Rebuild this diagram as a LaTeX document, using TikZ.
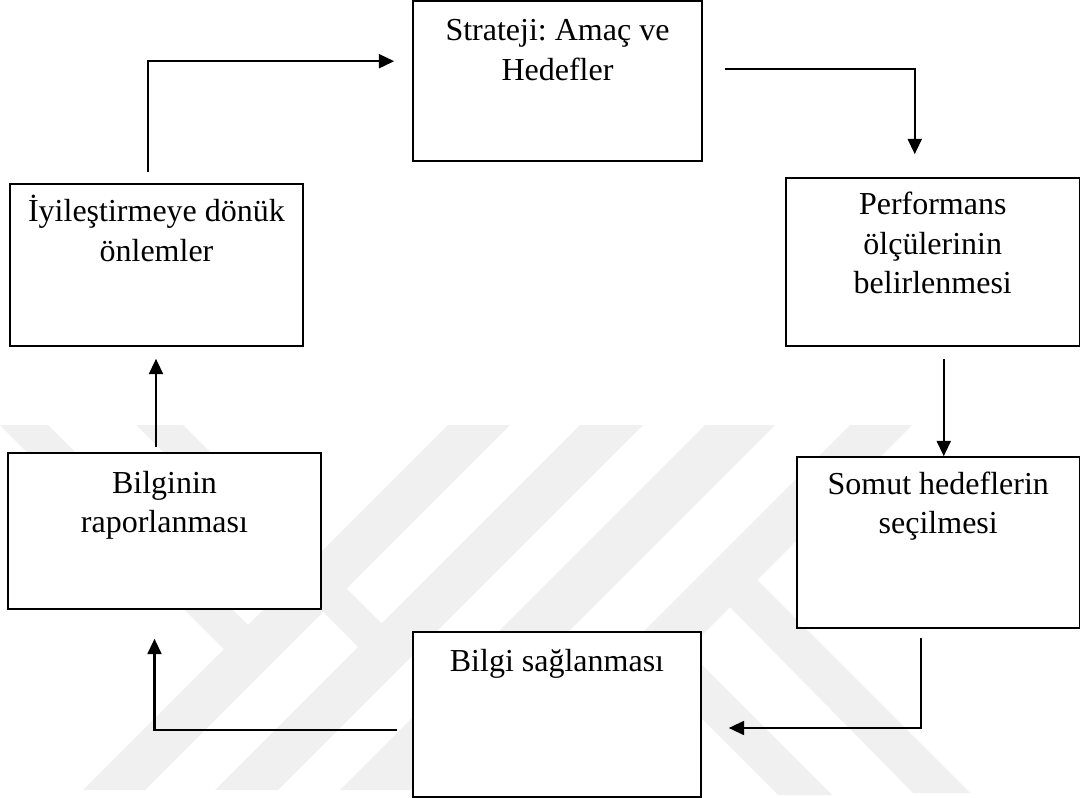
\documentclass[tikz,border=0pt]{standalone}
\usepackage{fontspec}
\setmainfont{Liberation Serif}
\usetikzlibrary{arrows.meta,calc,fit}
\frenchspacing

\begin{document}
\begin{tikzpicture}[x=0.75pt,y=-0.75pt,
  box/.style={draw=black, line width=1.2pt, fill=white, inner sep=0pt},
  lbl/.style={anchor=north, align=center, inner sep=0pt,
    font=\fontsize{24}{29.5}\selectfont},
  arr/.style={line width=1.6pt, -{Triangle[length=11.5pt,width=10.5pt]}},
  wm/.style={fill=black!6, draw=none}]

% canvas
\fill[white] (0,0) rectangle (1081,798);
\useasboundingbox (0,0) rectangle (1081,798);

% faint background bands
\fill[wm] (448,425) -- (510,425) -- (145,790) -- (83,790) -- cycle;
\fill[wm] (580,425) -- (643,425) -- (278,790) -- (215,790) -- cycle;
\fill[wm] (705,425) -- (775,425) -- (410,790) -- (340,790) -- cycle;
\fill[wm] (850,425) -- (912,425) -- (547,790) -- (485,790) -- cycle;
\fill[wm] (0,425) -- (48,425) -- (260,637) -- (236,661) -- cycle;
\fill[wm] (136,425) -- (183,425) -- (393,635) -- (370,659) -- cycle;
\fill[wm] (742,565) -- (970,793) -- (913,793) -- (715,592) -- cycle;
\fill[wm] (671,634) -- (832,795) -- (778,795) -- (644,661) -- cycle;

% boxes
\node[box, fit={(413,1) (702,161)}] (S) {};
\node[box, fit={(786,178) (1079.5,346)}] (P) {};
\node[box, fit={(797,457) (1079.5,628)}] (So) {};
\node[box, fit={(413,632) (701,797)}] (Bs) {};
\node[box, fit={(8,453) (321,609)}] (Br) {};
\node[box, fit={(10,184) (303,346)}] (I) {};

% labels (first baseline sits a strut below the node top)
\node[lbl] (tS)  at ($(S.north)+(0,13)$)  {\strut Strateji: Amaç ve\\Hedefler};
\node[lbl] (tP)  at ($(P.north)+(0,10)$)  {\strut Performans\\ölçülerinin\\belirlenmesi};
\node[lbl] (tSo) at ($(So.north)+(0,10)$) {\strut Somut hedeflerin\\seçilmesi};
\node[lbl] (tBs) at ($(Bs.north)+(0,12)$) {\strut Bilgi sağlanması};
\node[lbl] (tBr) at ($(Br.north)+(0,13)$) {\strut Bilginin\\raporlanması};
\node[lbl] (tI)  at ($(I.north)+(0,11)$)  {\strut İyileştirmeye dönük\\önlemler};

% connectors
\draw[arr] ($(I.north)+(-8.5,-11)$) |- ($(S.north west)+(-18,61)$);
\draw[arr] ($(S.north east)+(22,69)$) -| ($(P.north)+(-18,-23)$);
\draw[arr] ($(P.south)+(11,12)$) -- ($(So.north)+(5.5,0)$);
\draw[arr] ($(So.south)+(-17.5,9)$) |- ($(Bs.east)+(27,13.5)$);
\draw[arr] ($(Bs.west)+(-15,15.5)$) -| ($(Br.south)+(-10,29)$);
\draw[arr] ($(Br.north)+(-8.5,-5)$) -- ($(I.south)+(-0.5,12)$);
\end{tikzpicture}
\end{document}
